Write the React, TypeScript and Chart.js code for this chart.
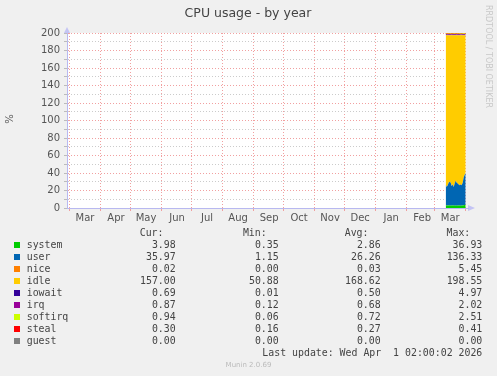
import React, { useEffect, useRef } from "react";
import { Chart, registerables } from "chart.js";

Chart.register(...registerables);

// Day offsets from 1 Mar 2025
const monthStarts = [0, 31, 61, 92, 122, 153, 184, 214, 245, 275, 306, 337, 365, 396];
const monthLabels = ["Mar", "Apr", "May", "Jun", "Jul", "Aug", "Sep", "Oct", "Nov", "Dec", "Jan", "Feb", "Mar", ""];
const yTicks = [0, 20, 40, 60, 80, 100, 120, 140, 160, 180, 200];

const days = [376, 377, 378, 379, 380, 381, 382, 383, 384, 385, 386, 387, 388, 389, 390, 391, 392, 393, 394, 395, 396];
const systemVals = [3.2, 3.0, 2.8, 2.9, 3.1, 2.7, 2.8, 2.9, 3.0, 2.6, 2.8, 2.7, 3.0, 2.9, 2.8, 2.7, 2.9, 3.0, 3.2, 3.5, 4.0];
const userVals = [23.8, 21.0, 23.2, 26.1, 26.9, 26.3, 22.2, 24.1, 21.0, 25.4, 28.2, 26.3, 25.0, 24.1, 23.2, 24.3, 23.1, 26.0, 31.8, 34.5, 36.0];
const niceVals = [0.03, 0.03, 0.03, 0.03, 0.03, 0.03, 0.03, 0.03, 0.03, 0.03, 0.03, 0.03, 0.03, 0.03, 0.03, 0.03, 0.03, 0.03, 0.03, 0.03, 0.02];
const idleVals = [170.5, 173.5, 171.5, 168.5, 167.5, 168.5, 172.5, 170.5, 173.5, 169.5, 166.5, 168.5, 169.5, 170.5, 171.5, 170.5, 171.5, 168.5, 162.5, 159.5, 157.0];
const iowaitVals = [0.5, 0.6, 0.4, 0.5, 0.5, 0.6, 0.4, 0.5, 0.5, 0.6, 0.5, 0.4, 0.5, 0.5, 0.6, 0.5, 0.4, 0.5, 0.6, 0.6, 0.69];
const irqVals = [0.7, 0.7, 0.6, 0.7, 0.7, 0.7, 0.6, 0.7, 0.7, 0.7, 0.7, 0.6, 0.7, 0.7, 0.7, 0.6, 0.7, 0.7, 0.8, 0.8, 0.87];
const softirqVals = [0.7, 0.7, 0.7, 0.6, 0.7, 0.7, 0.7, 0.7, 0.6, 0.7, 0.8, 0.7, 0.7, 0.7, 0.7, 0.7, 0.7, 0.7, 0.8, 0.9, 0.94];
const stealVals = [0.27, 0.27, 0.26, 0.27, 0.28, 0.27, 0.27, 0.26, 0.27, 0.27, 0.28, 0.27, 0.27, 0.27, 0.26, 0.27, 0.27, 0.28, 0.28, 0.29, 0.3];
const guestVals = [0, 0, 0, 0, 0, 0, 0, 0, 0, 0, 0, 0, 0, 0, 0, 0, 0, 0, 0, 0, 0];

const seriesNames = ["system", "user", "nice", "idle", "iowait", "irq", "softirq", "steal", "guest"];
const seriesColors = ["#00cc00", "#0066b3", "#ff8000", "#ffcc00", "#330099", "#990099", "#ccff00", "#ff0000", "#808080"];
const seriesData = [systemVals, userVals, niceVals, idleVals, iowaitVals, irqVals, softirqVals, stealVals, guestVals];
const seriesBorder = [0, 0, 0, 0, 0, 0, 0, 1, 0];

const curVals = ["3.98", "35.97", "0.02", "157.00", "0.69", "0.87", "0.94", "0.30", "0.00"];
const minVals = ["0.35", "1.15", "0.00", "50.88", "0.01", "0.12", "0.06", "0.16", "0.00"];
const avgVals = ["2.86", "26.26", "0.03", "168.62", "0.50", "0.68", "0.72", "0.27", "0.00"];
const maxVals = ["36.93", "136.33", "5.45", "198.55", "4.97", "2.02", "2.51", "0.41", "0.00"];

const MAJOR = "rgba(240,150,150,0.9)";
const MINOR = "rgba(190,190,190,0.8)";
const AXIS = "#b8b8f0";

const decorPlugin = {
  id: "decor",
  beforeDraw(chart: any) {
    const { ctx, chartArea } = chart;
    ctx.save();
    ctx.fillStyle = "#ffffff";
    ctx.fillRect(chartArea.left, chartArea.top, chartArea.right - chartArea.left, chartArea.bottom - chartArea.top);
    ctx.restore();
  },
  afterDraw(chart: any) {
    const { ctx, chartArea } = chart;
    ctx.save();
    // arrows
    ctx.fillStyle = "#c4c4f4";
    ctx.beginPath();
    ctx.moveTo(chartArea.left - 3, chartArea.top);
    ctx.lineTo(chartArea.left + 3, chartArea.top);
    ctx.lineTo(chartArea.left, chartArea.top - 6);
    ctx.closePath();
    ctx.fill();
    ctx.beginPath();
    ctx.moveTo(chartArea.right + 2, chartArea.bottom - 3);
    ctx.lineTo(chartArea.right + 2, chartArea.bottom + 3);
    ctx.lineTo(chartArea.right + 9, chartArea.bottom);
    ctx.closePath();
    ctx.fill();
    ctx.strokeStyle = AXIS;
    ctx.lineWidth = 1;
    ctx.beginPath();
    ctx.moveTo(chartArea.right, chartArea.bottom + 0.5);
    ctx.lineTo(chartArea.right + 3, chartArea.bottom + 0.5);
    ctx.stroke();
    // title
    ctx.fillStyle = "#444";
    ctx.font = "12.5px 'DejaVu Sans'";
    ctx.textAlign = "center";
    ctx.textBaseline = "middle";
    ctx.fillText("CPU usage - by year", 248, 14);
    // y title
    ctx.save();
    ctx.translate(10, 119);
    ctx.rotate(-Math.PI / 2);
    ctx.font = "10px 'DejaVu Sans'";
    ctx.fillStyle = "#555";
    ctx.fillText("%", 0, 0);
    ctx.restore();
    // rrdtool text
    ctx.save();
    ctx.translate(488, 5);
    ctx.rotate(Math.PI / 2);
    ctx.font = "8px 'DejaVu Sans'";
    ctx.fillStyle = "#c8c8c8";
    ctx.textAlign = "left";
    ctx.fillText("RRDTOOL / TOBI OETIKER", 0, 0);
    ctx.restore();
    ctx.restore();
  },
};

export default function App() {
  const ref = useRef<HTMLCanvasElement>(null);
  useEffect(() => {
    const datasets = seriesNames.map((name, i) => ({
      label: name,
      data: days.map((d, j) => ({ x: d, y: seriesData[i][j] })),
      backgroundColor: seriesColors[i],
      borderColor: seriesColors[i],
      borderWidth: seriesBorder[i],
      pointRadius: 0,
      fill: i === 0 ? "origin" : "-1",
      tension: 0,
    }));
    const chart = new Chart(ref.current!, {
      type: "line",
      data: { datasets },
      plugins: [decorPlugin],
      options: {
        animation: false,
        responsive: false,
        layout: { padding: { top: 33, left: 0, right: 31, bottom: 148 } },
        plugins: { legend: { display: false }, tooltip: { enabled: false }, title: { display: false } },
        scales: {
          x: {
            type: "linear",
            min: -2.5,
            max: 396.3,
            afterFit: (s: any) => { s.height = 20; },
            afterBuildTicks: (s: any) => { s.ticks = monthStarts.map((v) => ({ value: v })); },
            ticks: {
              autoSkip: false,
              maxRotation: 0,
              labelOffset: 15.5,
              padding: 1,
              color: "#555",
              font: { family: "DejaVu Sans", size: 10 },
              callback: (v: any) => monthLabels[monthStarts.indexOf(Number(v))] ?? "",
            },
            grid: { color: MAJOR, tickColor: MAJOR, tickLength: 3, drawTicks: true },
            border: { color: AXIS, dash: [1, 2] },
          },
          y: {
            stacked: true,
            min: 0,
            max: 200,
            afterFit: (s: any) => { s.width = 67; },
            afterBuildTicks: (s: any) => {
              const t: any[] = [];
              for (let v = 0; v <= 200; v += 10) t.push({ value: v });
              s.ticks = t;
            },
            ticks: {
              autoSkip: false,
              padding: 4,
              color: "#555",
              font: { family: "DejaVu Sans", size: 10 },
              callback: (v: any) => (yTicks.includes(Number(v)) ? String(v) : ""),
            },
            grid: {
              color: (c: any) => (c.tick && c.tick.value % 20 === 0 ? MAJOR : MINOR),
              tickColor: "#bbb",
              tickLength: 3,
            },
            border: { color: AXIS, dash: [1, 2] },
          },
        },
      },
    });
    return () => chart.destroy();
  }, []);

  const mono: React.CSSProperties = { position: "absolute", fontFamily: "'DejaVu Sans Mono'", fontSize: "9.9px", color: "#444", lineHeight: "12px", whiteSpace: "pre" };
  const rowY = (i: number) => 239 + i * 12;
  const rightCol = (r: number, text: string, y: number, key: string) => (
    <div key={key} style={{ ...mono, top: y, right: 497 - r, textAlign: "right" }}>{text}</div>
  );

  return (
    <div style={{ position: "fixed", left: 0, top: 0, width: 497, height: 376, background: "#f0f0f0", overflow: "hidden" }}>
      <canvas ref={ref} width={497} height={376} style={{ display: "block", position: "absolute", left: 0, top: 0 }} />
      {rightCol(163.5, "Cur:", 227, "hc")}
      {rightCol(266.7, "Min:", 227, "hm")}
      {rightCol(368.5, "Avg:", 227, "ha")}
      {rightCol(470.3, "Max:", 227, "hx")}
      {seriesNames.map((n, i) => (
        <React.Fragment key={n}>
          <div style={{ position: "absolute", left: 14, top: rowY(i) + 3, width: 6, height: 6, background: seriesColors[i] }} />
          <div style={{ ...mono, left: 26.7, top: rowY(i) }}>{n}</div>
          {rightCol(175.7, curVals[i], rowY(i), n + "c")}
          {rightCol(278.7, minVals[i], rowY(i), n + "m")}
          {rightCol(380.7, avgVals[i], rowY(i), n + "a")}
          {rightCol(482.3, maxVals[i], rowY(i), n + "x")}
        </React.Fragment>
      ))}
      {rightCol(482.3, "Last update: Wed Apr  1 02:00:02 2026", rowY(9), "lu")}
      <div style={{ position: "absolute", left: 0, width: 497, top: 361, textAlign: "center", fontFamily: "'DejaVu Sans'", fontSize: "7px", color: "#bbb" }}>Munin 2.0.69</div>
    </div>
  );
}
